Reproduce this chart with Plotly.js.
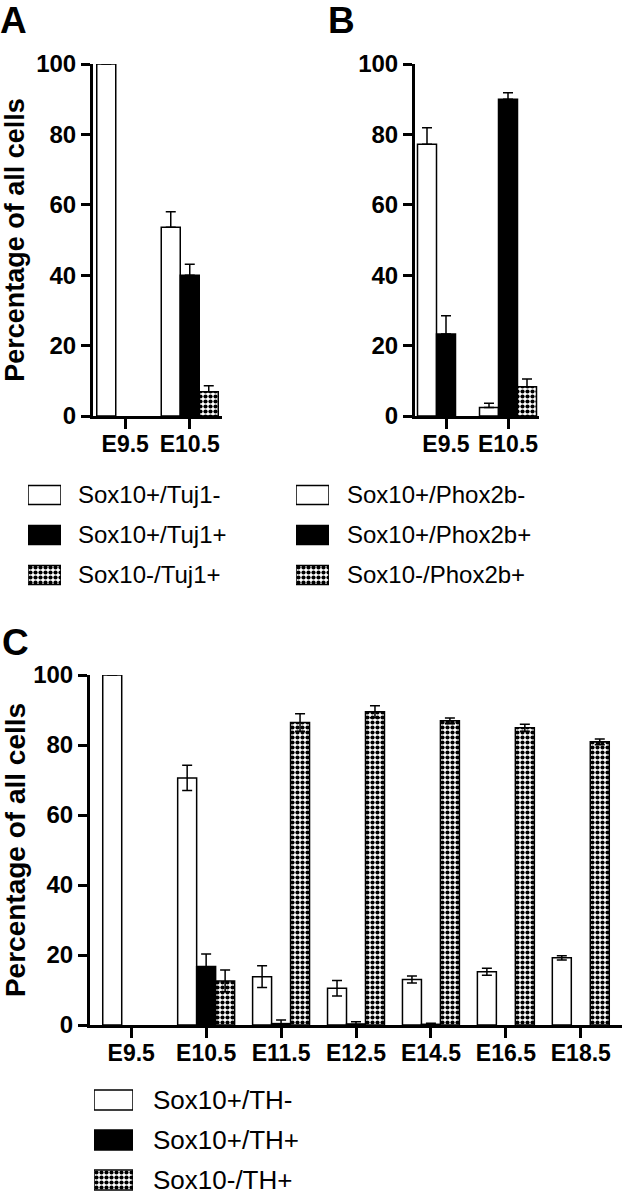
<!DOCTYPE html>
<html><head><meta charset="utf-8">
<script src="https://cdn.plot.ly/plotly-3.0.1.min.js"></script>
<style>html,body{margin:0;padding:0;background:#fff}#chart{width:632px;height:1199px}</style>
</head><body><div id="chart"></div>
<script>
// ---------- data ----------
const stagesAB = ['E9.5', 'E10.5'];
const stagesC = ['E9.5', 'E10.5', 'E11.5', 'E12.5', 'E14.5', 'E16.5', 'E18.5'];

const namesA = ['Sox10+/Tuj1-', 'Sox10+/Tuj1+', 'Sox10-/Tuj1+'];
const tuj1Neg = [100, 53.6];      const tuj1NegErr = [0, 4.4];
const tuj1Pos = [0, 40.0];        const tuj1PosErr = [0, 3.1];
const sox10NegTuj1 = [0, 6.9];    const sox10NegTuj1Err = [0, 1.7];

const namesB = ['Sox10+/Phox2b-', 'Sox10+/Phox2b+', 'Sox10-/Phox2b+'];
const phoxNeg = [77.2, 2.4];      const phoxNegErr = [4.7, 1.2];
const phoxPos = [23.3, 90.0];     const phoxPosErr = [5.2, 1.8];
const sox10NegPhox = [0, 8.3];    const sox10NegPhoxErr = [0, 2.2];

const namesC = ['Sox10+/TH-', 'Sox10+/TH+', 'Sox10-/TH+'];
const thNeg = [100, 70.6, 13.8, 10.5, 13.0, 15.2, 19.2];
const thNegErr = [0, 3.6, 3.1, 2.2, 1.0, 1.0, 0.6];
const thPos = [0, 16.7, 0.4, 0.3, 0.2, 0, 0];
const thPosErr = [0, 3.6, 1.0, 0.6, 0.3, 0, 0];
const sox10NegTH = [0, 12.6, 86.4, 89.5, 86.9, 84.9, 80.9];
const sox10NegTHErr = [0, 3.1, 2.5, 1.7, 0.8, 1.0, 0.8];

const yTicks = [0, 20, 40, 60, 80, 100];
const yTitle = 'Percentage of all cells';
const panelLetters = ['A', 'B', 'C'];

// ---------- styling helpers ----------
const W = 632, H = 1199;
const px = p => p / W;
const py = p => 1 - p / H;
const FONT = 'Liberation Sans, Arial, sans-serif';

const styles = [
  {color: 'white'},
  {color: 'black'},
  {color: 'white', pattern: {shape: '.', fgcolor: 'black', bgcolor: 'white', size: 5, solidity: 0.55, fillmode: 'replace'}}
];

function barTrace(x, y, err, sym, k, w, xa, ya, name) {
  // zero-valued bars are not drawn (no visible mark in the figure)
  const yy = y.map(v => v === 0 ? null : v);
  const up = err.map((e, i) => y[i] === 0 ? null : e);
  const down = err.map((e, i) => y[i] === 0 ? null : (sym ? e : 0));
  return {
    type: 'bar', x: x, y: yy, name: name, xaxis: xa, yaxis: ya,
    width: w, offset: (k - 1.5) * w,
    marker: Object.assign({line: {color: 'black', width: 1.5}}, styles[k]),
    error_y: {type: 'data', symmetric: false, array: up, arrayminus: down,
              color: 'black', thickness: 1.5, width: 5},
    showlegend: false, hoverinfo: 'skip'
  };
}

function legendTraces(names, xa, ya, barW) {
  return names.map((n, k) => ({
    type: 'bar', orientation: 'h', x: [1], y: [n], xaxis: xa, yaxis: ya,
    width: barW, offset: -barW / 2,
    marker: Object.assign({line: {color: 'black', width: 1.5}}, styles[k]),
    showlegend: false, hoverinfo: 'skip'
  }));
}

const wA = 19 / 64.5, wB = 19 / 62, wC = 19 / 75;
const data = [
  barTrace(stagesAB, tuj1Neg, tuj1NegErr, false, 0, wA, 'x', 'y', namesA[0]),
  barTrace(stagesAB, tuj1Pos, tuj1PosErr, false, 1, wA, 'x', 'y', namesA[1]),
  barTrace(stagesAB, sox10NegTuj1, sox10NegTuj1Err, false, 2, wA, 'x', 'y', namesA[2]),
  barTrace(stagesAB, phoxNeg, phoxNegErr, false, 0, wB, 'x2', 'y2', namesB[0]),
  barTrace(stagesAB, phoxPos, phoxPosErr, false, 1, wB, 'x2', 'y2', namesB[1]),
  barTrace(stagesAB, sox10NegPhox, sox10NegPhoxErr, false, 2, wB, 'x2', 'y2', namesB[2]),
  barTrace(stagesC, thNeg, thNegErr, true, 0, wC, 'x3', 'y3', namesC[0]),
  barTrace(stagesC, thPos, thPosErr, true, 1, wC, 'x3', 'y3', namesC[1]),
  barTrace(stagesC, sox10NegTH, sox10NegTHErr, true, 2, wC, 'x3', 'y3', namesC[2]),
  ...legendTraces(namesA, 'x4', 'y4', 19 / 40),
  ...legendTraces(namesB, 'x5', 'y5', 19 / 40),
  ...legendTraces(namesC, 'x6', 'y6', 20 / 40)
];

function xAxis(dom, anchor, range) {
  return {domain: dom, anchor: anchor, type: 'category', range: range,
    showline: true, linewidth: 3, linecolor: 'black', ticks: 'outside', ticklen: 10,
    tickwidth: 3, tickcolor: 'black', showgrid: false, zeroline: false, fixedrange: true,
    ticklabelstandoff: -5,
    tickfont: {family: FONT, size: 23, weight: 700, color: 'black'}};
}
function yAxis(dom, anchor, showTitle, titleSize) {
  return {domain: dom, anchor: anchor, range: [0, 100], tickvals: yTicks,
    showline: true, linewidth: 3, linecolor: 'black', ticks: 'outside', ticklen: 9,
    tickwidth: 3, tickcolor: 'black', showgrid: false, zeroline: false, fixedrange: true,
    tickfont: {family: FONT, size: 24, weight: 700, color: 'black'},
    title: showTitle ? {text: yTitle, standoff: 6,
      font: {family: FONT, size: titleSize, weight: 700, color: 'black'}} : {text: ''}};
}
function hiddenAxis(dom, anchor, range, extra) {
  return Object.assign({domain: dom, anchor: anchor, range: range, visible: false, fixedrange: true}, extra || {});
}

const annotations = [];
function letter(t, x, y) {
  annotations.push({text: t, xref: 'paper', yref: 'paper', x: px(x), y: py(y),
    xanchor: 'left', yanchor: 'top', showarrow: false,
    font: {family: FONT, size: 37, weight: 700, color: 'black'}});
}
letter(panelLetters[0], -2, -2);
letter(panelLetters[1], 326, -2);
letter(panelLetters[2], 0, 620);

function legendText(names, x, yStart, size) {
  names.forEach((n, k) => annotations.push({text: n, xref: 'paper', yref: 'paper',
    x: px(x), y: py(yStart + 40 * k), xanchor: 'left', yanchor: 'middle', showarrow: false,
    font: {family: FONT, size: size, color: 'black'}}));
}
legendText(namesA, 76, 494, 24);
legendText(namesB, 345, 494, 24);
legendText(namesC, 151, 1100, 26);

const layout = {
  width: W, height: H, margin: {l: 0, r: 0, t: 0, b: 0},
  paper_bgcolor: 'white', plot_bgcolor: 'white', showlegend: false,
  barmode: 'group',
  xaxis: xAxis([px(93), px(222)], 'y', [-0.5, 1.5]),
  yaxis: yAxis([py(416), py(64)], 'x', true, 27),
  xaxis2: xAxis([px(415), px(539)], 'y2', [-0.5, 1.5]),
  yaxis2: yAxis([py(416), py(64)], 'x2', false, 27),
  xaxis3: xAxis([px(90), px(622)], 'y3', [-0.55, 6.55]),
  yaxis3: yAxis([py(1025), py(675)], 'x3', true, 28),
  xaxis4: hiddenAxis([px(28), px(61)], 'y4', [0, 1]),
  yaxis4: hiddenAxis([py(595), py(475)], 'x4', [2.5, -0.5], {type: 'category', categoryarray: namesA}),
  xaxis5: hiddenAxis([px(296), px(329)], 'y5', [0, 1]),
  yaxis5: hiddenAxis([py(595), py(475)], 'x5', [2.5, -0.5], {type: 'category', categoryarray: namesB}),
  xaxis6: hiddenAxis([px(94), px(133)], 'y6', [0, 1]),
  yaxis6: hiddenAxis([0, py(1080)], 'x6', [2.475, -0.5], {type: 'category', categoryarray: namesC}),
  annotations: annotations
};

Plotly.newPlot('chart', data, layout, {staticPlot: true, displayModeBar: false});
</script></body></html>
